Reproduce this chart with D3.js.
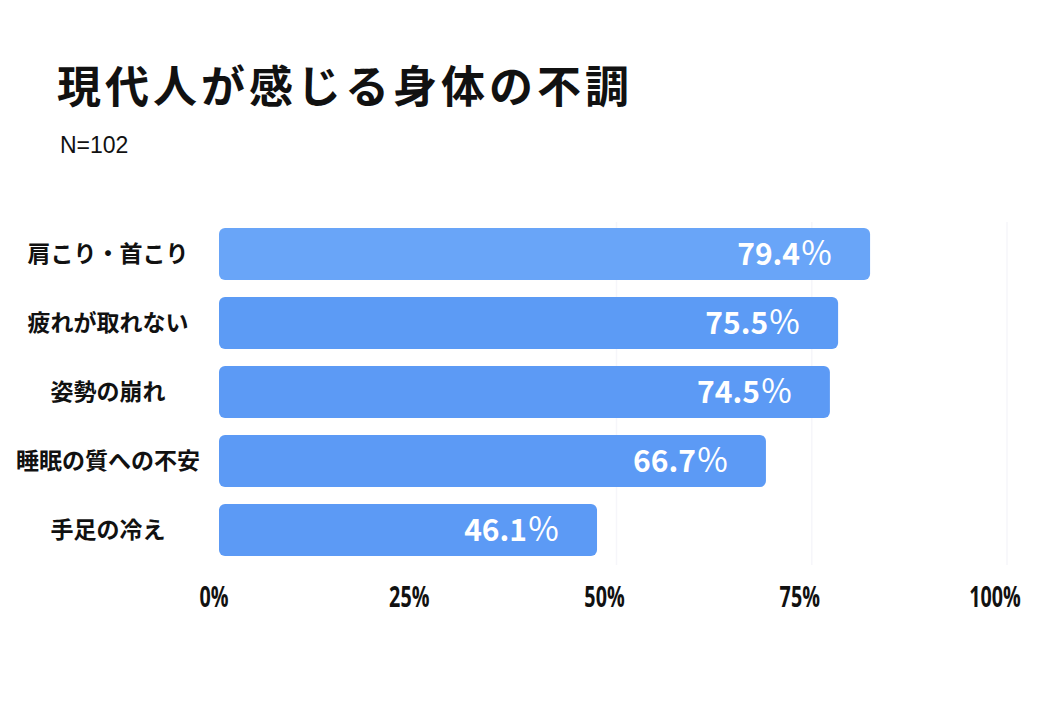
<!DOCTYPE html>
<html><head><meta charset="utf-8">
<script src="https://cdn.jsdelivr.net/npm/d3@7/dist/d3.min.js"></script>
<style>body{margin:0;background:#fff}svg{display:block}</style>
</head><body>
<svg id="c" width="1040" height="720"></svg>
<script>
const categories = ["肩こり・首こり","疲れが取れない","姿勢の崩れ","睡眠の質への不安","手足の冷え"];
const values = [79.4, 75.5, 74.5, 66.7, 46.1];
const tickValues = [0, 25, 50, 75, 100];
const tickLabels = ["0%","25%","50%","75%","100%"];
const barColors = ["#69a5f8","#5c9bf5","#5c9af5","#5c9af5","#5c9af5"];

const svg = d3.select("#c");
const x = d3.scaleLinear().domain([0,100]).range([219,1039]);
const xt = d3.scaleLinear().domain([0,100]).range([214,995]);
const y = d3.scaleBand().domain(categories).range([228,556]).paddingInner(0.246).paddingOuter(0);

// faint background gridlines
svg.append("g").selectAll("line").data([50,75,100]).join("line")
  .attr("x1",d=>xt(d)+12).attr("x2",d=>xt(d)+12).attr("y1",222).attr("y2",565)
  .attr("stroke","#f6f6fa").attr("stroke-width",1.5);

svg.append("text").attr("x",57).attr("y",103)
  .attr("font-family","'Noto Sans CJK JP'").attr("font-weight",700)
  .attr("font-size",44).attr("letter-spacing",4).attr("fill","#111")
  .text("現代人が感じる身体の不調");
svg.append("text").attr("x",60).attr("y",153)
  .attr("font-family","'Liberation Sans',sans-serif")
  .attr("font-size",23).attr("fill","#111").text("N=102");

const g = svg.append("g");
g.selectAll("rect").data(values).join("rect")
  .attr("x",x(0)).attr("y",(d,i)=>y(categories[i]))
  .attr("width",d=>x(d)-x(0)).attr("height",y.bandwidth())
  .attr("rx",6).attr("ry",6)
  .attr("fill",(d,i)=>barColors[i]);

g.selectAll("text.v").data(values).join("text").attr("class","v")
  .attr("x",d=>x(d)-37).attr("y",(d,i)=>y(categories[i])+y.bandwidth()/2+11)
  .attr("text-anchor","end").attr("fill","#fff")
  .attr("font-family","'Noto Sans CJK JP'").attr("font-weight",700).attr("font-size",30)
  .each(function(d){
    const t=d3.select(this);
    t.append("tspan").text(d.toFixed(1));
    t.append("tspan").attr("font-weight",400).attr("font-size",33).text("％");
  });

svg.append("g").selectAll("text").data(categories).join("text")
  .attr("x",108).attr("y",d=>y(d)+y.bandwidth()/2+8)
  .attr("text-anchor","middle").attr("fill","#111")
  .attr("font-family","'Noto Sans CJK JP'").attr("font-weight",700).attr("font-size",23)
  .text(d=>d);

svg.append("g").selectAll("text").data(tickValues).join("text")
  .attr("transform",d=>`translate(${xt(d)},607) scale(0.68,1)`)
  .attr("text-anchor","middle").attr("fill","#111")
  .attr("font-family","'Open Sans',sans-serif").attr("font-weight",700).attr("font-size",29)
  .text((d,i)=>tickLabels[i]);
</script>
</body></html>
